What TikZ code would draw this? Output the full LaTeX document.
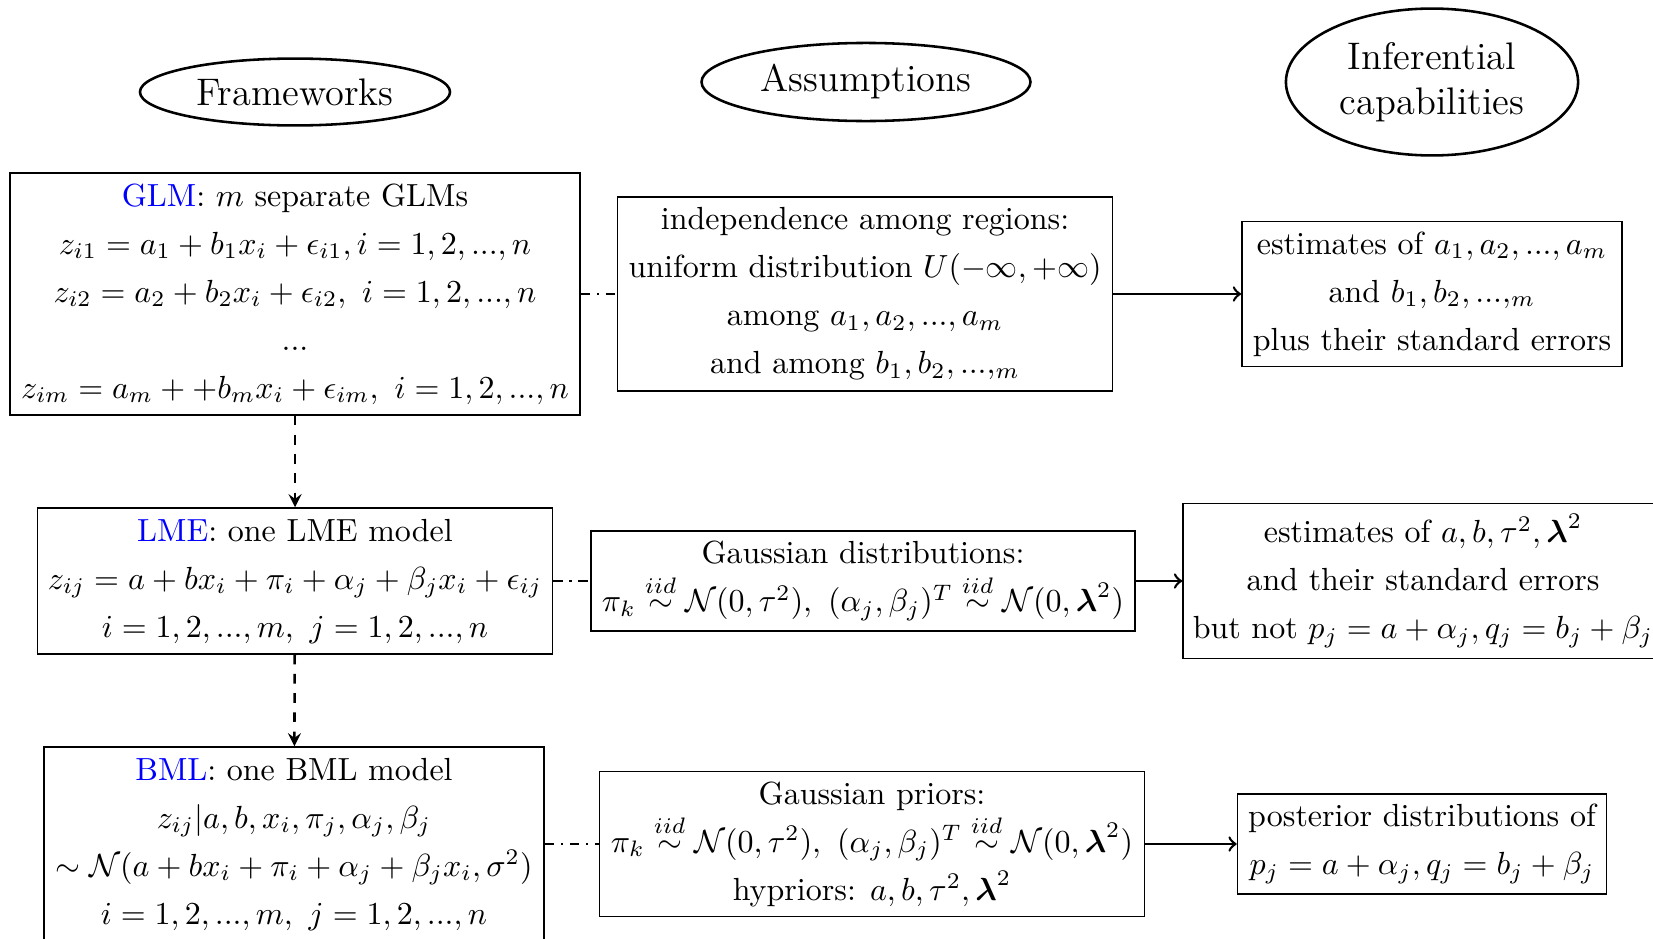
\documentclass[tikz,border=0pt]{standalone}
\usepackage{amsmath}
\usetikzlibrary{shapes.geometric}
\begin{document}
\begin{tikzpicture}[x=0.3125pt,y=-0.3125pt,
  hdr/.style={ellipse, draw, thick, inner sep=0pt, font=\large, align=center},
  box/.style={draw, line width=0.5pt, align=center, inner sep=0pt, font=\linespread{1.25}\selectfont},
  dn/.style={thick, dashed, -stealth},
  dd/.style={thick, dash dot},
  ar/.style={thick, ->}]
\useasboundingbox (0,0) rectangle (1653,938);
% headers
\node[hdr, minimum width=96.9pt, minimum height=20.9pt] (fw) at (295,92) {Frameworks};
\node[hdr, minimum width=102.8pt, minimum height=24.4pt] (as) at (866,82) {Assumptions};
\node[hdr, minimum width=91.3pt, minimum height=45.9pt] (inf) at (1432,82) {Inferential\\capabilities};
% row 1
\node[box, minimum width=178.1pt, minimum height=75.6pt] (glm) at (295,294)
 {\textcolor{blue}{GLM}: $m$ separate GLMs\\
  $z_{i1}=a_1+b_1x_i+\epsilon_{i1}, i=1,2,...,n$\\
  $z_{i2}=a_2+b_2x_i+\epsilon_{i2},\ i=1,2,...,n$\\
  ...\\
  $z_{im}=a_m++b_mx_i+\epsilon_{im},\ i=1,2,...,n$};
\node[box, minimum width=154.7pt, minimum height=60.6pt] (a1) at (865,294)
 {independence among regions:\\
  uniform distribution $U(-\infty,+\infty)$\\
  among $a_1,a_2,...,a_m$\\
  and among $b_1,b_2,...,_m$};
\node[box, minimum width=118.8pt, minimum height=45.3pt] (i1) at (1432,294)
 {estimates of $a_1,a_2,...,a_m$\\
  and $b_1,b_2,...,_m$\\
  plus their standard errors};
% row 2
\node[box, minimum width=160.9pt, minimum height=45.6pt] (lme) at (295,581)
 {\textcolor{blue}{LME}: one LME model\\
  $z_{ij}=a+bx_i+\pi_i+\alpha_j+\beta_jx_i+\epsilon_{ij}$\\
  $i=1,2,...,m,\ j=1,2,...,n$};
\node[box, minimum width=170pt, minimum height=31.3pt] (a2) at (863,581)
 {Gaussian distributions:\\
  $\pi_k\overset{iid}{\sim}\mathcal{N}(0,\tau^2),\ (\alpha_j,\beta_j)^T\overset{iid}{\sim}\mathcal{N}(0,\boldsymbol{\lambda}^2)$};
\node[box, minimum width=150pt, minimum height=48.4pt] (i2) at (1423,581)
 {estimates of $a,b,\tau^2,\boldsymbol{\lambda}^2$\\
  and their standard errors\\
  but not $p_j=a+\alpha_j,q_j=b_j+\beta_j$};
% row 3
\node[box, minimum width=156.25pt, minimum height=60.6pt] (bml) at (294,844)
 {\textcolor{blue}{BML}: one BML model\\
  $z_{ij}|a,b,x_i,\pi_j,\alpha_j,\beta_j$\\
  $\sim\mathcal{N}(a+bx_i+\pi_i+\alpha_j+\beta_jx_i,\sigma^2)$\\
  $i=1,2,...,m,\ j=1,2,...,n$};
\node[box, minimum width=170.3pt, minimum height=45.3pt] (a3) at (872,844)
 {Gaussian priors:\\
  $\pi_k\overset{iid}{\sim}\mathcal{N}(0,\tau^2),\ (\alpha_j,\beta_j)^T\overset{iid}{\sim}\mathcal{N}(0,\boldsymbol{\lambda}^2)$\\
  hypriors: $a,b,\tau^2,\boldsymbol{\lambda}^2$};
\node[box, minimum width=115.3pt, minimum height=31.3pt] (i3) at (1422,844)
 {posterior distributions of\\
  $p_j=a+\alpha_j,q_j=b_j+\beta_j$};
% connectors
\draw[dn] (glm) -- (lme);
\draw[dn] (lme) -- (bml);
\draw[dd] (glm) -- (a1);
\draw[dd] (lme) -- (a2);
\draw[dd] (bml) -- (a3);
\draw[ar] (a1) -- (i1);
\draw[ar] (a2) -- (i2);
\draw[ar] (a3) -- (i3);
\end{tikzpicture}
\end{document}
